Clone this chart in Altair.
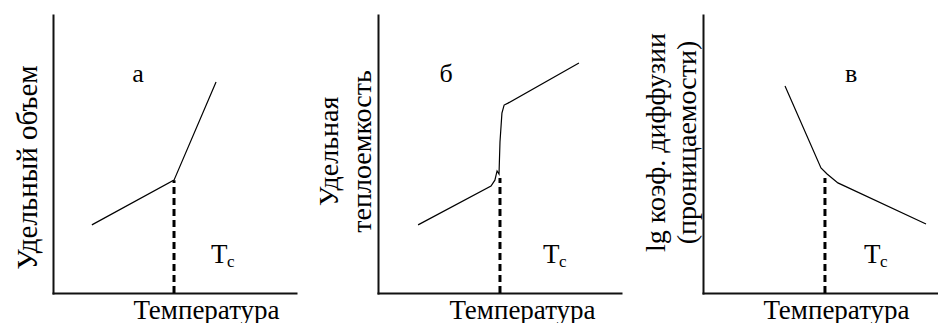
import altair as alt
import pandas as pd

FONT = "Liberation Serif"

# ---- panel a: specific volume ----
a_cx = [16.0, 49.8, 67.1]
a_cy = [24.5, 40.6, 75.9]
a_tg = 49.8          # glass-transition temperature position
a_tg_top = 40.6
a_label = "а"
a_label_x = 35.0
a_tc_x = [65.0, 71.6]
a_ytitle = "Удельный объем"

# ---- panel b: specific heat ----
b_cx = [16.5, 46.5, 48.1, 49.0, 49.8, 50.2, 51.0, 51.9, 53.5, 82.7]
b_cy = [24.5, 38.5, 40.6, 43.9, 42.8, 54.3, 64.7, 67.6, 68.3, 82.7]
b_tg = 50.2
b_tg_top = 41.4
b_label = "б"
b_label_x = 28.0
b_tc_x = [67.9, 74.5]
b_ytitle = ["Удельная", "теплоемкость"]

# ---- panel c: log diffusion coefficient ----
c_cx = [34.9, 50.2, 52.8, 57.4, 94.9]
c_cy = [74.5, 45.0, 42.8, 39.6, 24.8]
c_tg = 51.9
c_tg_top = 41.4
c_label = "в"
c_label_x = 63.0
c_tc_x = [68.5, 75.3]
c_ytitle = ["lg коэф. диффузии", "(проницаемости)"]

xtitle = "Температура"
label_y = 75.9
tc_texts = ["T", "c"]
tc_y = [10.8, 9.4]
tc_sizes = [27, 17]


def panel(cx, cy, tg, tg_top, lab, lab_x, tcx, ytitle, width, ytx, yty, ylh, yfs, xtx):
    xs = alt.Scale(domain=[0, 100], nice=False, zero=False)
    ys = alt.Scale(domain=[0, 100], nice=False, zero=False)
    xaxis = alt.Axis(title=xtitle, ticks=False, labels=False, grid=False,
                     domainColor="#111111", domainWidth=2, domainCap="square",
                     titleFont=FONT, titleFontSize=27, titleFontWeight="normal",
                     titleColor="black", titleX=xtx, titleY=25,
                     titleBaseline="alphabetic", titleAlign="center")
    yaxis = alt.Axis(title=ytitle, ticks=False, labels=False, grid=False,
                     domainColor="#111111", domainWidth=2, domainCap="square",
                     titleFont=FONT, titleFontSize=yfs, titleFontWeight="normal",
                     titleColor="black", titleAngle=270, titleX=ytx, titleY=yty,
                     titleBaseline="alphabetic", titleAlign="center",
                     titleLineHeight=ylh)
    X = alt.X("x:Q", scale=xs, axis=xaxis)
    Y = alt.Y("y:Q", scale=ys, axis=yaxis)

    line_df = pd.DataFrame({"x": cx, "y": cy, "i": list(range(len(cx)))})
    line = alt.Chart(line_df).mark_line(color="black", strokeWidth=1.2).encode(
        x=X, y=Y, order="i:Q")

    dash_df = pd.DataFrame({"x": [tg], "y": [0.0], "y2": [tg_top]})
    dash = alt.Chart(dash_df).mark_rule(color="black", strokeWidth=3,
                                        strokeDash=[7, 4]).encode(
        x=X, y=Y, y2="y2:Q")

    lab_df = pd.DataFrame({"x": [lab_x], "y": [label_y], "t": [lab]})
    labt = alt.Chart(lab_df).mark_text(font=FONT, fontSize=26, color="black",
                                       align="center", baseline="alphabetic").encode(
        x=X, y=Y, text="t:N")

    tc_df = pd.DataFrame({"x": tcx, "y": tc_y, "t": tc_texts, "s": tc_sizes})
    tct = alt.Chart(tc_df).mark_text(font=FONT, color="black", align="left",
                                     baseline="alphabetic").encode(
        x=X, y=Y, text="t:N", size=alt.Size("s:Q", scale=None, legend=None))

    return alt.layer(line, dash, labt, tct).properties(width=width, height=278)


pa = panel(a_cx, a_cy, a_tg, a_tg_top, a_label, a_label_x, a_tc_x, a_ytitle,
           243, -17, 152, 27, 29, 153)
pb = panel(b_cx, b_cy, b_tg, b_tg_top, b_label, b_label_x, b_tc_x, b_ytitle,
           243, -41, 136, 33, 28, 144)
pc = panel(c_cx, c_cy, c_tg, c_tg_top, c_label, c_label_x, c_tc_x, c_ytitle,
           235, -39, 127, 31, 28, 133)

chart = alt.hconcat(pa, pb, pc, spacing=82, bounds="flush").properties(
    padding={"left": 12, "top": 15, "right": 0, "bottom": 0},
    background="white",
).configure_view(stroke=None)

chart.save("out.html", embed_options={"renderer": "svg", "actions": False})
